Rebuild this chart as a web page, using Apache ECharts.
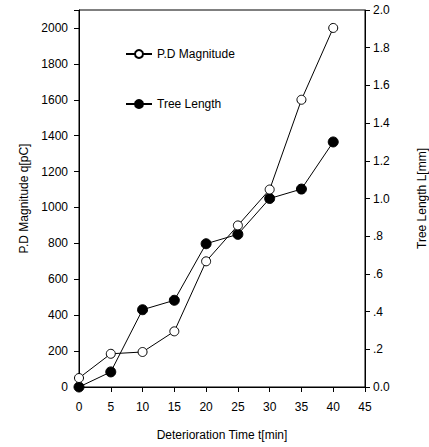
<!DOCTYPE html>
<html>
<head>
<meta charset="utf-8">
<script src="https://cdn.jsdelivr.net/npm/echarts@6/dist/echarts.min.js"></script>
<style>
  html, body { margin: 0; padding: 0; background: #fff; }
  #chart { width: 429px; height: 447px; }
</style>
</head>
<body>
<div id="chart"></div>
<script>
// data
const times = [0, 5, 10, 15, 20, 25, 30, 35, 40];
const pd_magnitude = [50, 185, 195, 310, 700, 900, 1100, 1600, 2000];
const tree_length = [0.0, 0.08, 0.41, 0.46, 0.76, 0.81, 1.0, 1.05, 1.3];

const font = "'Liberation Sans Narrow', 'Arial Narrow', 'Liberation Sans', sans-serif";

function pairs(xs, ys) {
    return xs.map((x, i) => [x, ys[i]]);
}

function right_label(v) {
    if (v === 0) return "0.0";
    if (v < 1) return v.toFixed(1).substring(1);
    return v.toFixed(1);
}

function make_axis(extra) {
    let ax = {
        axisLine: { show: true, onZero: false, lineStyle: { color: "#000", width: 1 } },
        axisTick: { show: true, inside: false, length: 5, lineStyle: { color: "#000" } },
        splitLine: { show: false },
        nameTextStyle: { color: "#000", fontFamily: font, fontSize: 12 }
    };
    return Object.assign(ax, extra);
}

function label_style(extra) {
    return Object.assign({ color: "#000", fontFamily: font, fontSize: 12 }, extra);
}

// svg renderer: the canvas one left ghost copies of the rotated names
let chart = echarts.init(document.getElementById("chart"), null, { renderer: "svg" });

let opt = {
    animation: false,
    backgroundColor: "#fff",
    grid: {
        left: 79, right: 64, top: 10, bottom: 60,
        outerBoundsMode: "none",
        show: true, borderColor: "#000", borderWidth: 1
    },
    legend: {
        orient: "vertical",
        left: 120, top: 43,
        itemGap: 38,
        itemWidth: 26, itemHeight: 10,
        textStyle: { color: "#000", fontFamily: font, fontSize: 12 },
        data: ["P.D Magnitude", "Tree Length"]
    },
    xAxis: make_axis({
        type: "value",
        min: 0, max: 45, interval: 5,
        name: "Deterioration Time t[min]",
        nameLocation: "middle",
        nameGap: 42,
        axisLabel: label_style({ margin: 14 })
    }),
    yAxis: [
        make_axis({
            type: "value",
            min: 0, max: 2100, interval: 200,
            name: "P.D Magnitude q[pC]",
            nameLocation: "middle",
            nameGap: 47,
            nameRotate: 90,
            axisLabel: label_style({
                margin: 11,
                formatter: v => (v > 2000 ? "" : String(v))
            })
        }),
        make_axis({
            type: "value",
            position: "right",
            min: 0, max: 2.0, interval: 0.2,
            name: "Tree Length L[mm]",
            nameLocation: "middle",
            nameGap: 51,
            nameRotate: 90,
            axisLabel: label_style({
                margin: 8,
                formatter: right_label
            })
        })
    ],
    series: [
        {
            name: "P.D Magnitude",
            type: "line",
            yAxisIndex: 0,
            data: pairs(times, pd_magnitude),
            symbol: "circle",
            symbolSize: 9,
            itemStyle: { color: "#fff", borderColor: "#000", borderWidth: 1 },
            lineStyle: { color: "#000", width: 1 },
            z: 3
        },
        {
            name: "Tree Length",
            type: "line",
            yAxisIndex: 1,
            data: pairs(times, tree_length),
            symbol: "circle",
            symbolSize: 10,
            itemStyle: { color: "#000", borderColor: "#000", borderWidth: 1 },
            lineStyle: { color: "#000", width: 1 },
            z: 2
        }
    ]
};

chart.setOption(opt);
</script>
</body>
</html>
